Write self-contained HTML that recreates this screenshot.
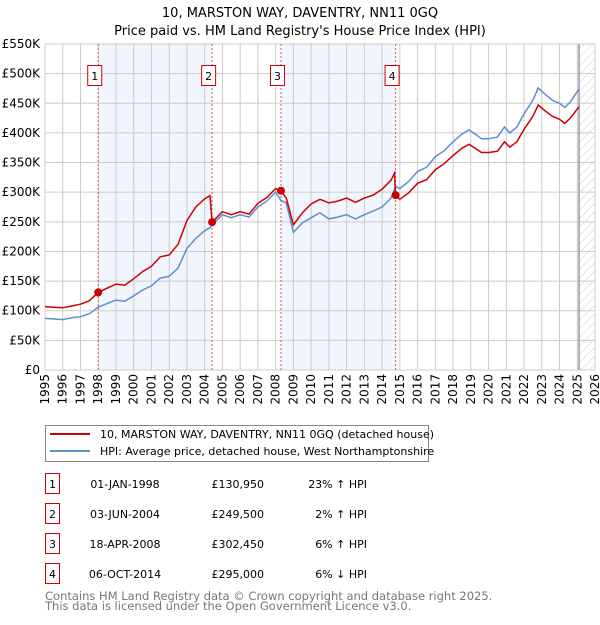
<!DOCTYPE html>
<html><head><meta charset="utf-8"><style>
body{margin:0;background:#fff;width:600px;height:620px;overflow:hidden}
svg text{font-family:"DejaVu Sans","Liberation Sans",sans-serif}
</style></head><body>
<svg id="chart" width="600" height="620" xmlns="http://www.w3.org/2000/svg">
<defs><pattern id="hatch" width="6" height="6" patternUnits="userSpaceOnUse" patternTransform="rotate(45)"><line x1="0" y1="0" x2="0" y2="6" stroke="#ccc" stroke-width="1"/></pattern></defs>
<text x="300" y="17" text-anchor="middle" font-size="13">10, MARSTON WAY, DAVENTRY, NN11 0GQ</text>
<text x="300" y="35" text-anchor="middle" font-size="13">Price paid vs. HM Land Registry's House Price Index (HPI)</text>
<g id="bg"></g><g id="grid"></g><g id="sales"></g><g id="lines"></g><g id="axes"></g>
<g>
<rect x="45.5" y="425.5" width="383" height="36" fill="#fff" stroke="#888"/>
<line x1="50" y1="434" x2="90" y2="434" stroke="#cc0000" stroke-width="2"/>
<text x="100" y="438" font-size="11">10, MARSTON WAY, DAVENTRY, NN11 0GQ (detached house)</text>
<line x1="50" y1="451" x2="90" y2="451" stroke="#5b8fd0" stroke-width="2"/>
<text x="100" y="455" font-size="11">HPI: Average price, detached house, West Northamptonshire</text>
</g>
<g id="table"></g>
<text x="45" y="600" font-size="11.5" fill="#777">Contains HM Land Registry data © Crown copyright and database right 2025.</text>
<text x="45" y="610" font-size="11.5" fill="#777">This data is licensed under the Open Government Licence v3.0.</text>
</svg>
<script>
const hpiDates=[1995,1995.5,1996,1996.5,1997,1997.5,1998,1998.5,1999,1999.5,2000,2000.5,2001,2001.5,2002,2002.5,2003,2003.5,2004,2004.3,2004.42,2005,2005.5,2006,2006.5,2007,2007.5,2008,2008.3,2008.6,2009,2009.5,2010,2010.5,2011,2011.5,2012,2012.5,2013,2013.5,2014,2014.5,2014.76,2015,2015.5,2016,2016.5,2017,2017.5,2018,2018.5,2018.9,2019.3,2019.6,2020,2020.5,2020.9,2021.2,2021.6,2022,2022.5,2022.8,2023.2,2023.6,2024,2024.3,2024.6,2025.1];
const hpiValues=[87,86,85,88,90,95,106,112,118,116,125,135,142,155,158,172,205,222,235,240,245,262,257,262,258,275,285,300,286,282,232,248,257,265,255,258,262,255,262,268,275,290,310,306,318,335,342,360,370,385,398,405,397,390,390,393,410,400,410,432,455,476,465,455,450,443,452,474];
const redDates=[1995,1995.5,1996,1996.5,1997,1997.5,1998,1998.5,1999,1999.5,2000,2000.5,2001,2001.5,2002,2002.5,2003,2003.5,2004,2004.3,2004.42,2005,2005.5,2006,2006.5,2007,2007.5,2008,2008.3,2008.6,2009,2009.5,2010,2010.5,2011,2011.5,2012,2012.5,2013,2013.5,2014,2014.5,2014.7,2014.76,2015,2015.5,2016,2016.5,2017,2017.5,2018,2018.5,2018.9,2019.3,2019.6,2020,2020.5,2020.9,2021.2,2021.6,2022,2022.5,2022.8,2023.2,2023.6,2024,2024.3,2024.6,2025.1];
const redValues=[107,106,105,108,111,117,131,138,145,143,154,166,175,191,194,212,252,275,289,294,249.5,267,262,267,263,281,291,306,302,290,245,265,280,288,282,285,290,283,290,295,305,320,332,295,288,299,315,321,338,348,362,374,381,373,367,367,369,385,376,385,406,428,447,437,428,423,416,425,444];
const saleDates=[1998.0,2004.42,2008.3,2014.76];
const salePrices=[130950,249500,302450,295000];
const saleLabels=["01-JAN-1998","03-JUN-2004","18-APR-2008","06-OCT-2014"];
const salePrice=["£130,950","£249,500","£302,450","£295,000"];
const saleDiff=["23% ↑ HPI","2% ↑ HPI","6% ↑ HPI","6% ↓ HPI"];
const yTicks=[0,50,100,150,200,250,300,350,400,450,500,550];
const yLabels=["£0","£50K","£100K","£150K","£200K","£250K","£300K","£350K","£400K","£450K","£500K","£550K"];
const xYears=[1995,1996,1997,1998,1999,2000,2001,2002,2003,2004,2005,2006,2007,2008,2009,2010,2011,2012,2013,2014,2015,2016,2017,2018,2019,2020,2021,2022,2023,2024,2025,2026];
const X0=45,X1=595,Y0=370,Y1=44;
const xs=d=>X0+(d-1995)/31*(X1-X0);
const ys=v=>Y0-v/550*(Y0-Y1);
const NS="http://www.w3.org/2000/svg";
function mk(p,t,a){const e=document.createElementNS(NS,t);for(const k in a)e.setAttribute(k,a[k]);p.appendChild(e);return e;}
const bg=document.getElementById('bg'),grid=document.getElementById('grid'),sales=document.getElementById('sales'),lines=document.getElementById('lines'),axes=document.getElementById('axes'),table=document.getElementById('table');
for(let i=0;i<saleDates.length;i+=2){const r=mk(bg,'rect',{x:xs(saleDates[i]),y:Y1,width:xs(saleDates[i+1])-xs(saleDates[i]),height:Y0-Y1,fill:'#eef3fc',opacity:0.8});

}
const hx=xs(2025.1);
const h=mk(bg,'rect',{x:hx,y:Y1,width:X1-hx,height:Y0-Y1,fill:'url(#hatch)'});


xYears.forEach(y=>{const l=mk(grid,'line',{x1:xs(y),x2:xs(y),y1:Y1,y2:Y0,stroke:'#ccc'});


const tx=xs(y)+4,ty=374;
const t=mk(axes,'text',{x:tx,y:ty,'text-anchor':'end','font-size':'12',transform:'rotate(-90 '+tx+' '+ty+')'});t.textContent=y;

});
yTicks.forEach((v,i)=>{const l=mk(grid,'line',{x1:X0,x2:X1,y1:ys(v),y2:ys(v),stroke:'#ccc'});


const t=mk(axes,'text',{x:40,y:ys(v)+4,'text-anchor':'end','font-size':'12'});t.textContent=yLabels[i];

});
const vl=mk(grid,'line',{x1:hx,x2:hx,y1:Y1,y2:Y0,stroke:'#999','stroke-width':1.5});


saleDates.forEach((d,i)=>{const x=xs(d);
const l=mk(sales,'line',{x1:x,x2:x,y1:Y1,y2:Y0,stroke:'#e05050','stroke-dasharray':'2,2'});


const b=mk(sales,'rect',{x:x-10.5,y:65.5,width:14,height:20,fill:'#fff',stroke:'#cc0000'});


const t=mk(sales,'text',{x:x-3.5,y:80,'text-anchor':'middle','font-size':'11'});t.textContent=i+1;

});
function path(ds,vs){return ds.map((d,i)=>(i?'L':'M')+xs(d).toFixed(1)+','+ys(vs[i]).toFixed(1)).join('');}
const hp=mk(lines,'path',{d:path(hpiDates,hpiValues),fill:'none',stroke:'#5b8fd0','stroke-width':1.5});


const rp=mk(lines,'path',{d:path(redDates,redValues),fill:'none',stroke:'#cc0000','stroke-width':1.5});


saleDates.forEach((d,i)=>{const c=mk(lines,'circle',{cx:xs(d),cy:ys(salePrices[i]/1000),r:4,fill:'#cc0000'});

});
const rowsY=[484,514,544,574];
saleDates.forEach((d,i)=>{const y=rowsY[i];
const b=mk(table,'rect',{x:45.5,y:y-10.5,width:14,height:20,fill:'#fff',stroke:'#cc0000'});


const n=mk(table,'text',{x:52.5,y:y+4,'text-anchor':'middle','font-size':'11'});n.textContent=i+1;


const a=mk(table,'text',{x:125,y:y+4,'text-anchor':'middle','font-size':'11'});a.textContent=saleLabels[i];


const p=mk(table,'text',{x:264,y:y+4,'text-anchor':'end','font-size':'11'});p.textContent=salePrice[i];


const q=mk(table,'text',{x:367,y:y+4,'text-anchor':'end','font-size':'11'});q.textContent=saleDiff[i];

});
</script>
</body></html>
